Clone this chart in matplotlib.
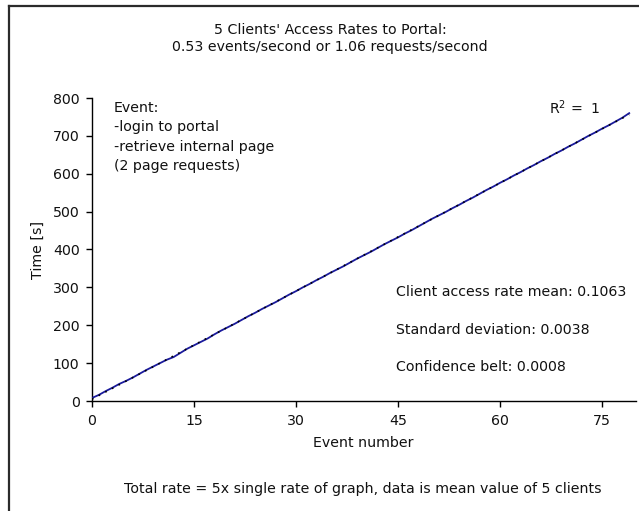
import matplotlib
matplotlib.use("Agg")
import matplotlib.pyplot as plt
import numpy as np
from matplotlib.lines import Line2D

plt.rcParams['font.family'] = ['DejaVu Sans']

# Mean time (s) at which each event completed, averaged over 5 clients
event_number = list(range(80))
time_s = [8, 16, 26, 35, 45, 53, 62, 72, 82, 91,
          100, 109, 116, 127, 138, 147, 156, 165, 176, 186,
          195, 204, 214, 224, 233, 243, 252, 261, 271, 281,
          290, 300, 309, 319, 328, 338, 347, 356, 366, 376,
          385, 394, 404, 414, 423, 432, 442, 451, 461, 471,
          481, 490, 499, 509, 518, 528, 537, 547, 557, 566,
          576, 585, 595, 604, 614, 623, 633, 642, 652, 661,
          671, 680, 690, 700, 709, 719, 728, 738, 748, 760]

x_ticks = [0, 15, 30, 45, 60, 75]
y_ticks = [0, 100, 200, 300, 400, 500, 600, 700, 800]

title_lines = ["5 Clients' Access Rates to Portal:",
               "0.53 events/second or 1.06 requests/second"]
event_lines = ["Event:", "-login to portal", "-retrieve internal page",
               "(2 page requests)"]
stats_lines = ["Client access rate mean: 0.1063",
               "Standard deviation: 0.0038",
               "Confidence belt: 0.0008"]
footnote = "Total rate = 5x single rate of graph, data is mean value of 5 clients"

W, H = 639, 511
fig = plt.figure(figsize=(W / 100, H / 100), dpi=100)

def fx(px):
    return px / W

def fy(py):
    return 1 - py / H

ax = fig.add_axes([fx(92), fy(401), fx(636) - fx(92), fy(98) - fy(401)])

x = np.array(event_number, dtype=float)
y = np.array(time_s, dtype=float)

ax.plot(x, y, color='#1a1a9c', lw=1.3, zorder=3)

# Linear trend line
slope, intercept = np.polyfit(x, y, 1)
ax.plot(x, slope * x + intercept, color='black', lw=1.2,
        linestyle=(0, (1, 3.5)), zorder=4)

ax.set_xlim(0, 80)
ax.set_ylim(0, 800)
ax.set_xticks(x_ticks)
ax.set_yticks(y_ticks)
for side in ('top', 'right'):
    ax.spines[side].set_visible(False)
for side in ('left', 'bottom'):
    ax.spines[side].set_linewidth(1.0)
    ax.spines[side].set_color('black')
ax.tick_params(direction='out', length=4, width=1.0, labelsize=10.2, pad=5,
               labelcolor='#111111')

fs = 10.2
tc = '#111111'
for i, t in enumerate(title_lines):
    fig.text(fx(330), fy(30 + 17 * i), t, ha='center', va='center',
             fontsize=fs, color=tc)

for i, t in enumerate(event_lines):
    fig.text(fx(114), fy(108 + 19.3 * i), t, ha='left', va='center',
             fontsize=fs, color=tc)

fig.text(fx(549), fy(108), r"R$^{2}$ =  1", ha='left', va='center',
         fontsize=fs, color=tc)

for i, t in enumerate(stats_lines):
    fig.text(fx(396), fy(292 + 37.5 * i), t, ha='left', va='center',
             fontsize=fs, color=tc)

fig.text(fx(363), fy(443), "Event number", ha='center', va='center',
         fontsize=fs, color=tc)
fig.text(fx(38), fy(250), "Time [s]", ha='center', va='center',
         rotation=90, fontsize=fs, color=tc)
fig.text(fx(363), fy(489), footnote, ha='center', va='center',
         fontsize=fs, color=tc)

# Chart-area frame (runs off the right and bottom edges)
fig.add_artist(Line2D([fx(8.5), fx(8.5)], [fy(6), fy(520)], color='#2b2b2b',
                      lw=1.6, transform=fig.transFigure))
fig.add_artist(Line2D([fx(8.5), fx(650)], [fy(6.5), fy(6.5)], color='#2b2b2b',
                      lw=1.6, transform=fig.transFigure))

fig.savefig("out.png", dpi=100, facecolor='white')
